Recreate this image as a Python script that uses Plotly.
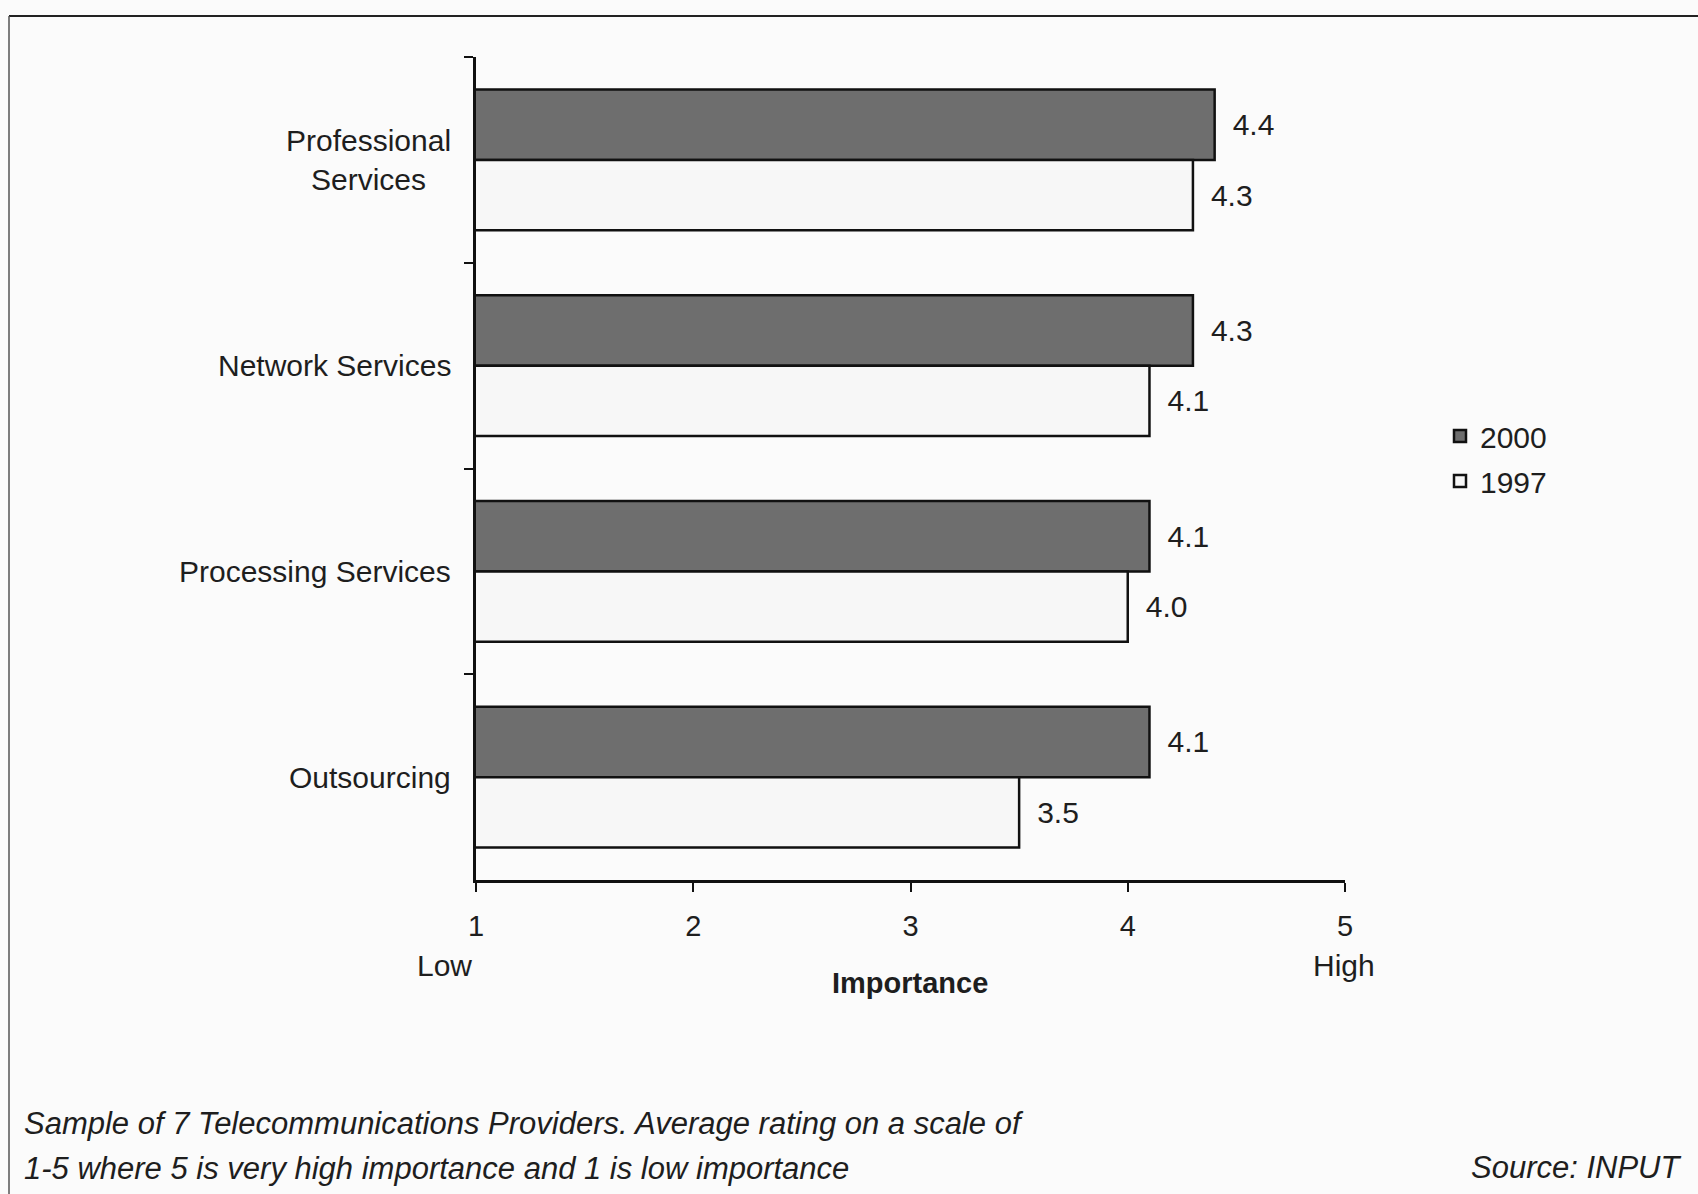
import plotly.graph_objects as go

categories = ["Professional<br>Services", "Network Services", "Processing Services", "Outsourcing"]
series_names = ["2000", "1997"]
values_2000 = [4.4, 4.3, 4.1, 4.1]
values_1997 = [4.3, 4.1, 4.0, 3.5]
x_ticks = [1, 2, 3, 4, 5]
x_title = "Importance"
low_label, high_label = "Low", "High"
caption_lines = ["Sample of 7 Telecommunications Providers. Average rating on a scale of",
                 "1-5 where 5 is very high importance and 1 is low importance"]
source_text = "Source: INPUT"

W, H = 1698, 1194
L, R, T, B = 476, 1345, 57, 880   # plot area in pixels
FONT = "Liberation Sans, Arial, Helvetica, sans-serif"
INK = "#1e1e1e"
FS = 30


def px(x):
    return (x - L) / (R - L)


def py(y):
    return (B - y) / (B - T)


fig = go.Figure()
fig.add_trace(go.Bar(
    y=categories, x=values_2000, name=series_names[0], orientation="h", legendgroup="a",
    marker=dict(color="#6e6e6e", line=dict(color="#111111", width=2.5)),
    texttemplate="\u2002%{x:.1f}", textposition="outside",
    textfont=dict(size=FS, color=INK, family=FONT), cliponaxis=False,
))
fig.add_trace(go.Bar(
    y=categories, x=values_1997, name=series_names[1], orientation="h", legendgroup="b",
    marker=dict(color="#f7f7f7", line=dict(color="#111111", width=2.5)),
    texttemplate="\u2002%{x:.1f}", textposition="outside",
    textfont=dict(size=FS, color=INK, family=FONT), cliponaxis=False,
))

annotations = []
for c in categories:
    annotations.append(dict(x=px(453), y=c, xref="paper", yref="y", text=c,
                            xanchor="right", yanchor="middle", align="center",
                            showarrow=False, font=dict(size=FS, color=INK, family=FONT)))
annotations.append(dict(x=px(444), y=py(965), xref="paper", yref="paper", text=low_label,
                        xanchor="center", yanchor="middle", showarrow=False,
                        font=dict(size=FS, color=INK, family=FONT)))
annotations.append(dict(x=px(1344), y=py(965), xref="paper", yref="paper", text=high_label,
                        xanchor="center", yanchor="middle", showarrow=False,
                        font=dict(size=FS, color=INK, family=FONT)))
annotations.append(dict(x=px(910), y=py(983), xref="paper", yref="paper", text="<b>" + x_title + "</b>",
                        xanchor="center", yanchor="middle", showarrow=False,
                        font=dict(size=FS - 1, color=INK, family=FONT)))
for i, line in enumerate(caption_lines):
    annotations.append(dict(x=px(22), y=py(1123 + 45 * i), xref="paper", yref="paper",
                            text="<i>" + line + "</i>", xanchor="left", yanchor="middle",
                            showarrow=False, font=dict(size=FS + 1, color=INK, family=FONT)))
annotations.append(dict(x=px(1684), y=py(1167), xref="paper", yref="paper",
                        text="<i>" + source_text + "</i>", xanchor="right", yanchor="middle",
                        showarrow=False, font=dict(size=FS + 1, color=INK, family=FONT)))

shapes = [
    dict(type="line", xref="paper", yref="paper", x0=px(9), x1=px(W + 5), y0=py(16), y1=py(16),
         line=dict(color="#222222", width=2)),
    dict(type="line", xref="paper", yref="paper", x0=px(9), x1=px(9), y0=py(16), y1=py(H + 5),
         line=dict(color="#555555", width=1.5)),
]

fig.update_layout(
    width=W, height=H,
    margin=dict(l=L, r=W - R, t=T, b=H - B, autoexpand=False),
    paper_bgcolor="#fbfbfb", plot_bgcolor="rgba(0,0,0,0)",
    barmode="group", bargap=0.315, bargroupgap=0,
    font=dict(family=FONT, size=FS, color=INK),
    showlegend=True,
    legend=dict(x=px(1440), y=py(410), xanchor="left", yanchor="top",
                bgcolor="rgba(0,0,0,0)", font=dict(size=FS, color=INK, family=FONT),
                itemwidth=30, traceorder="grouped", tracegroupgap=3),
    annotations=annotations, shapes=shapes,
)
fig.update_xaxes(range=[1, 5], tickvals=x_ticks, ticktext=[str(v) for v in x_ticks],
                 showgrid=False, zeroline=False, showline=True, linecolor="#111111", linewidth=2.5,
                 ticks="outside", ticklen=9, tickwidth=2, tickcolor="#111111",
                 tickfont=dict(size=FS - 1, color=INK, family=FONT), ticklabelstandoff=9)
fig.update_yaxes(categoryorder="array", categoryarray=categories, autorange="reversed",
                 showticklabels=False, showgrid=False, zeroline=False,
                 showline=True, linecolor="#111111", linewidth=2.5,
                 ticks="outside", tickson="boundaries", ticklen=9, tickwidth=2, tickcolor="#111111")

fig.write_html("out.html", config={"displayModeBar": False},
               post_script="document.body.style.margin='0';document.body.style.overflow='hidden';")
